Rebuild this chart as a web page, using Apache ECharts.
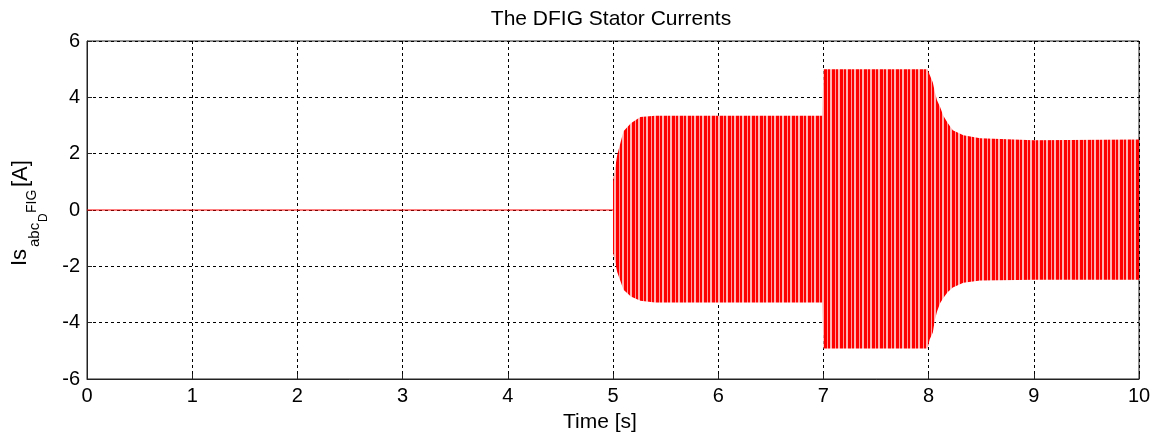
<!DOCTYPE html>
<html>
<head>
<meta charset="UTF-8">
<title>The DFIG Stator Currents</title>
<script src="https://cdn.jsdelivr.net/npm/echarts@6/dist/echarts.min.js"></script>
<style>
  html, body { margin: 0; padding: 0; width: 100%; height: 100%; background: #fff; overflow: hidden; }
  #main { width: 1157px; height: 439px; }
</style>
</head>
<body>
<div id="main"></div>
<script>
// values
var xTicks = [0, 1, 2, 3, 4, 5, 6, 7, 8, 9, 10];
var yTicks = [-6, -4, -2, 0, 2, 4, 6];

// before the machine is connected the current is zero
var idleTime = [0, 5];
var idleValue = [0, 0];

// envelope of the three phase currents after t = 5 s
var envTime  = [5.0, 5.04, 5.10, 5.17, 5.26, 5.4, 6.99, 7.0, 7.99, 8.01, 8.04, 8.06, 8.08, 8.11, 8.14, 8.18, 8.23, 8.33, 8.49, 9.0, 10.0];
var envUpper = [1.0, 1.95, 2.8, 3.08, 3.3, 3.35, 3.35, 5.0, 5.0, 4.8, 4.53, 4.18, 3.9, 3.65, 3.35, 3.1, 2.83, 2.65, 2.55, 2.48, 2.5];
var envLower = [-1.5, -2.2, -2.83, -3.07, -3.22, -3.28, -3.28, -4.92, -4.92, -4.6, -4.35, -3.9, -3.6, -3.3, -3.12, -2.92, -2.75, -2.58, -2.5, -2.48, -2.48];

function pairs(xs, ys) {
  var out = [];
  for (var i = 0; i < xs.length; i++) out.push([xs[i], ys[i]]);
  return out;
}

// thin pale stripes like the dense sine traces of the scope plot
var stripe = document.createElement('canvas');
stripe.width = 8;
stripe.height = 2;
var sctx = stripe.getContext('2d');
sctx.fillStyle = '#ff0000';
sctx.fillRect(0, 0, 8, 2);
sctx.fillStyle = '#ff9a9a';
sctx.fillRect(3, 0, 1, 2);
sctx.fillStyle = '#ffb4b4';
sctx.fillRect(6, 0, 2, 2);

var chart = echarts.init(document.getElementById('main'));
var font = 'Liberation Sans, Arial, sans-serif';

function envSeries(name, values) {
  return {
    name: name,
    type: 'line',
    data: pairs(envTime, values),
    symbol: 'none',
    lineStyle: { width: 0, opacity: 0 },
    areaStyle: { color: { image: stripe, repeat: 'repeat' }, opacity: 1, origin: 0 },
    z: 2
  };
}

var option = {
  backgroundColor: '#fff',
  animation: false,
  title: {
    text: 'The DFIG Stator Currents',
    left: 606,
    top: 4,
    textAlign: 'center',
    textStyle: { fontFamily: font, fontSize: 21, fontWeight: 'normal', color: '#000' }
  },
  grid: {
    left: 87, right: 18, top: 41, bottom: 60,
    outerBoundsMode: 'none',
    containLabel: false,
    show: true, borderColor: '#222', borderWidth: 1, backgroundColor: '#fff'
  },
  xAxis: {
    type: 'value',
    min: xTicks[0], max: xTicks[xTicks.length - 1], interval: 1,
    name: 'Time [s]',
    nameLocation: 'middle',
    nameGap: 33,
    nameTextStyle: { fontFamily: font, fontSize: 21, color: '#000', padding: [0, 26, 0, 0] },
    axisLine: { show: true, onZero: false, lineStyle: { color: '#222', width: 1 } },
    axisTick: { show: true, inside: true, length: 5, lineStyle: { color: '#222' } },
    axisLabel: { fontFamily: font, fontSize: 20, color: '#000', margin: 7 },
    splitLine: { show: true, lineStyle: { color: '#000', type: [3, 3], width: 1 } }
  },
  yAxis: {
    type: 'value',
    min: yTicks[0], max: yTicks[yTicks.length - 1], interval: 2,
    axisLine: { show: true, onZero: false, lineStyle: { color: '#222', width: 1 } },
    axisTick: { show: true, inside: true, length: 5, lineStyle: { color: '#222' } },
    axisLabel: { fontFamily: font, fontSize: 20, color: '#000', margin: 7 },
    splitLine: { show: true, lineStyle: { color: '#000', type: [3, 3], width: 1 } }
  },
  graphic: [
    { type: 'text', x: 31, y: 266, rotation: Math.PI / 2,
      style: { text: 'Is', font: '22px ' + font, fill: '#000', textAlign: 'left', textVerticalAlign: 'bottom' } },
    { type: 'text', x: 42, y: 247, rotation: Math.PI / 2,
      style: { text: 'abc', font: '15px ' + font, fill: '#000', textAlign: 'left', textVerticalAlign: 'bottom' } },
    { type: 'text', x: 50, y: 222, rotation: Math.PI / 2,
      style: { text: 'D', font: '12px ' + font, fill: '#000', textAlign: 'left', textVerticalAlign: 'bottom' } },
    { type: 'text', x: 39, y: 213, rotation: Math.PI / 2,
      style: { text: 'FIG', font: '14px ' + font, fill: '#000', textAlign: 'left', textVerticalAlign: 'bottom' } },
    { type: 'text', x: 32, y: 187, rotation: Math.PI / 2,
      style: { text: '[A]', font: '22px ' + font, fill: '#000', textAlign: 'left', textVerticalAlign: 'bottom' } }
  ],
  series: [
    {
      name: 'idle',
      type: 'line',
      data: pairs(idleTime, idleValue),
      symbol: 'none',
      lineStyle: { color: '#ff0000', width: 1 },
      z: 3
    },
    envSeries('upper', envUpper),
    envSeries('lower', envLower)
  ]
};

chart.setOption(option);
window.onresize = function () { chart.resize(); };
</script>
</body>
</html>
